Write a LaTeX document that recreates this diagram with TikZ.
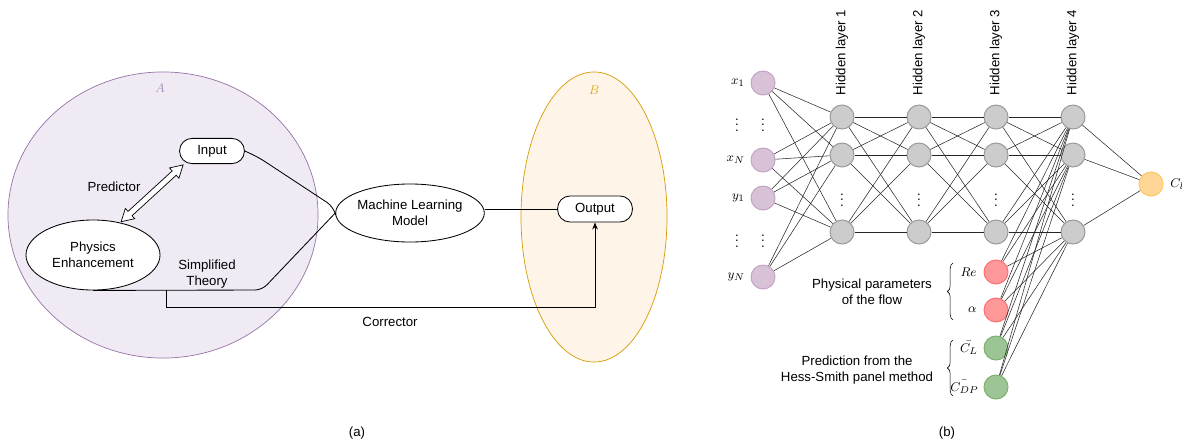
\documentclass[tikz,border=0pt]{standalone}
\usepackage{amsmath}
\usepackage[no-math]{fontspec}
\setmainfont{Liberation Sans}
\usetikzlibrary{positioning,shapes.geometric,shapes.arrows,arrows.meta,decorations.pathreplacing}
\definecolor{setAline}{HTML}{9673A6}
\definecolor{setAfill}{HTML}{F0EAF4}
\definecolor{setBline}{HTML}{D79B00}
\definecolor{setBfill}{HTML}{FFF4E8}
\definecolor{inpfill}{HTML}{D8C2D8}
\definecolor{inpline}{HTML}{C3A3C3}
\definecolor{hidfill}{HTML}{CCCCCC}
\definecolor{hidline}{HTML}{999999}
\definecolor{flowfill}{HTML}{FF9999}
\definecolor{flowline}{HTML}{FF7070}
\definecolor{hsfill}{HTML}{9CC596}
\definecolor{hsline}{HTML}{7DB06C}
\definecolor{liftfill}{HTML}{FFD696}
\definecolor{liftline}{HTML}{FFC55E}

\begin{document}
\begin{tikzpicture}[x=0.025cm, y=-0.025cm,
  every node/.style={font=\fontsize{9.4pt}{11.4pt}\selectfont},
  box/.style={draw, fill=white, rounded corners=3.1mm, line width=0.6pt,
    minimum width=1.62cm, minimum height=0.63cm},
  oval/.style={draw, fill=white, ellipse, align=center, inner sep=0pt, line width=0.6pt},
  link/.style={line width=0.6pt},
  darrow/.style={double arrow, draw, fill=white, inner sep=0.065cm, line width=0.5pt,
    minimum height=2.1cm, double arrow head extend=0.1cm, double arrow tip angle=60},
  dots/.style={inner sep=0pt},
  neuron/.style={circle, minimum size=0.6cm, inner sep=0pt, line width=0.7pt},
  inpn/.style={neuron, draw=inpline, fill=inpfill},
  hid/.style={neuron, draw=hidline, fill=hidfill},
  flow/.style={neuron, draw=flowline, fill=flowfill},
  hsn/.style={neuron, draw=hsline, fill=hsfill},
  liftn/.style={neuron, draw=liftline, fill=liftfill},
  wire/.style={black!85, line width=0.38pt}]
  \useasboundingbox (0,0) rectangle (1182,441);

  \node[ellipse, draw=setAline, fill=setAfill, line width=0.5pt,
    minimum width=7.75cm, minimum height=7.15cm] (setA) at (163,215) {};
  \node[ellipse, draw=setBline, fill=setBfill, line width=0.5pt,
    minimum width=3.65cm, minimum height=7.25cm] (setB) at (594,217) {};
  \node[text=setAline!80] (labA) at (160,88) {$A$};
  \node[text=setBline!85] (labB) at (594,90) {$B$};

  \node[box] (inp) at (212,151) {Input};
  \node[oval, minimum width=3.35cm, minimum height=1.75cm] (pe) at (93,255) {Physics\\Enhancement};
  \node[oval, minimum width=3.35cm, minimum height=1.45cm] (ml) at (410,213) {Machine Learning\\Model};
  \node[box, minimum width=1.87cm, minimum height=0.65cm] (out) at (595,209) {Output};

  \node (pred) at (114,187) {Predictor};
  \node[align=center] (simp) at (207,274) {Simplified\\Theory};
  \node (corr) at (390,322) {Corrector};

  \path (pe.50) -- node[darrow, sloped] {} (inp.205);
  \coordinate (kneeA) at (258,157);
  \coordinate (kneeB) at (334,207);
  \draw[link, rounded corners=6pt] (inp.east) -- (kneeA) -- (kneeB) -- (ml.west);
  \coordinate (bend) at (262,290);
  \coordinate (split) at (166,290);
  \draw[link, rounded corners=5pt] (pe.south) -- (bend) -- (ml.west);
  \draw[link, -{Stealth[length=5pt, width=4pt]}] (split) -- ++(0,17) -| (out.south);
  \draw[link] (ml.east |- out.west) -- (out.west);

  \node (capa) at (357,433) {(a)};
  \node (capb) at (947,433) {(b)};

  \foreach \x/\i in {842/1,919/2,996/3,1073/4} {
    \node[hid] (h\i-1) at (\x,117) {};
    \node[hid] (h\i-2) at (\x,155) {};
    \node[hid] (h\i-3) at (\x,232) {};
    \node[dots] (hd\i) at (\x,196) {$\vdots$};
    \node[rotate=90, anchor=west] (hl\i) at (\x,100) {Hidden layer \i};
  }

  \node[inpn] (x1) at (763,83) {};
  \node[inpn] (xn) at (763,160) {};
  \node[inpn] (y1) at (763,198) {};
  \node[inpn] (yn) at (763,277) {};
  \node[left=0.02cm of x1] (x1l) {$x_1$};
  \node[left=0.02cm of xn] (xnl) {$x_N$};
  \node[left=0.02cm of y1] (y1l) {$y_1$};
  \node[left=0.02cm of yn] (ynl) {$y_N$};
  \node[dots] (dl1) at (737,121) {$\vdots$};
  \node[dots] (dn1) at (763,121) {$\vdots$};
  \node[dots] (dl2) at (737,237) {$\vdots$};
  \node[dots] (dn2) at (763,237) {$\vdots$};

  \node[flow] (re) at (996,272) {};
  \node[flow] (al) at (996,310) {};
  \node[hsn] (clbar) at (996,348) {};
  \node[hsn] (cdpbar) at (996,387) {};
  \node[left=0.05cm of re] (rel) {$Re$};
  \node[left=0.05cm of al] (all) {$\alpha$};
  \node[left=0.02cm of clbar] (clbarl) {$\bar{C_L}$};
  \node[left=0cm of cdpbar] (cdpbarl) {$\bar{C_{DP}}$};
  \node[liftn] (lift) at (1151,184) {};
  \node[right=0.05cm of lift] (liftl) {$C_l$};

  \draw[decorate, decoration={brace, amplitude=4pt}] (953,320) -- (953,263);
  \draw[decorate, decoration={brace, amplitude=4pt}] (953,396) -- (953,340);
  \node[align=center] (phys) at (872,292) {Physical parameters\\of the flow};
  \node[align=center] (hess) at (857,370) {Prediction from the\\Hess-Smith panel method};

  \foreach \a in {x1,xn,y1,yn}
    \foreach \b in {1,2,3}
      \draw[wire] (\a) -- (h1-\b);
  \foreach \l/\m in {1/2,2/3,3/4}
    \foreach \a in {1,2,3}
      \foreach \b in {1,2,3}
        \draw[wire] (h\l-\a) -- (h\m-\b);
  \foreach \a in {re,al,clbar,cdpbar}
    \foreach \b in {1,2,3}
      \draw[wire] (\a) -- (h4-\b);
  \foreach \b in {1,2,3}
    \draw[wire] (h4-\b) -- (lift);
\end{tikzpicture}
\end{document}
